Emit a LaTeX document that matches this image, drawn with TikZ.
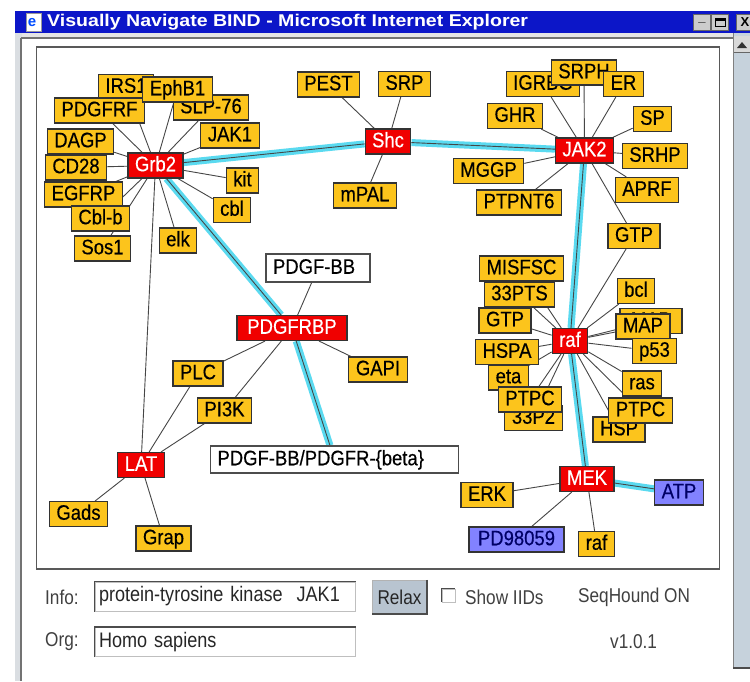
\documentclass[tikz,border=0pt]{standalone}
\usepackage{fontspec}
\setmainfont{Liberation Sans}
\newfontfamily\nodefont[FakeStretch=0.88,FakeBold=0.4]{Liberation Sans}
\newfontfamily\uifont[FakeStretch=0.86]{Liberation Sans}
\newfontfamily\titlefont[FakeStretch=1.15]{Liberation Sans}
\definecolor{nyel}{RGB}{252,196,28}
\definecolor{nred}{RGB}{240,0,0}
\definecolor{nlav}{RGB}{130,130,255}
\definecolor{glowc}{RGB}{90,218,240}
\definecolor{edgec}{RGB}{70,70,70}
\definecolor{titleblue}{RGB}{12,22,200}
\definecolor{wingrey}{RGB}{180,188,198}
\definecolor{scrollc}{RGB}{198,210,220}
\definecolor{btnc}{RGB}{184,196,208}
\pgfdeclarelayer{bg}\pgfdeclarelayer{edges}\pgfsetlayers{bg,edges,main}
\begin{document}
\begin{tikzpicture}[x=1pt,y=-1pt,
 nbox/.style={draw=black!80, line width=1.1pt, fill=nyel, inner xsep=7pt, inner ysep=0pt,
   minimum height=25pt, text height=15pt, text depth=3.5pt, font=\nodefont\fontsize{21}{22}\selectfont},
 hub/.style={nbox, fill=nred, text=white},
 lbox/.style={nbox, fill=nlav, text=black!60!blue},
 wbox/.style={nbox, fill=white, draw=black!70, align=left},
 ln/.style={draw=edgec, line width=0.9pt},
 glow/.style={draw=glowc, line width=7pt},
 ui/.style={font=\uifont\fontsize{20}{21}\selectfont, text=black!75, inner sep=0pt, anchor=west},
 field/.style={draw=black!25, fill=white, line width=1pt, minimum width=260pt, minimum height=29pt,
   text width=252pt, align=left, inner xsep=4pt, font=\uifont\fontsize{21}{22}\selectfont, text=black!85},
 bevel/.style={draw=black!70, line width=1.6pt},
 winbtn/.style={draw=black!60, fill=black!20, line width=0.8pt, minimum width=17pt, minimum height=16pt, inner sep=0pt, font=\bfseries\fontsize{13}{13}\selectfont},
]
\useasboundingbox (0,0) rectangle (750,681);
\begin{pgfonlayer}{bg}
\fill[white] (0,0) rectangle (750,681);
% window frame
\fill[wingrey!50] (15,33) rectangle (22,681);
\draw[black!55, line width=1.5pt] (21,38) -- (21,681);
\fill[black!10] (22,33) rectangle (733,38);
\draw[black!55, line width=1.5pt] (21,38) -- (733,38);
% scrollbar
\fill[scrollc] (733,33) rectangle (750,668);
\draw[black!50, line width=1pt] (733,33) -- (733,668);
\draw[black!70, line width=1.5pt] (733,668) -- (750,668);
\fill[black!15] (734,36) rectangle (750,52);
\draw[black!60] (734,52) -- (750,52);
\fill[black!80] (737,48) -- (742,42) -- (747,48) -- cycle;
% title bar
\fill[titleblue] (15,11) rectangle (750,33);
\end{pgfonlayer}
% title bar content
\node[draw=black!40, fill=white, minimum width=15pt, minimum height=18pt, inner sep=0pt] (icon) at (34,22.5) {};
\node[text=blue!70!cyan, font=\bfseries\fontsize{15}{15}\selectfont, inner sep=0pt] (iconE) at (32,23) {e};
\node[anchor=west, text=white, font=\titlefont\bfseries\fontsize{17}{18}\selectfont, inner sep=0pt] (title) at (47,22) {Visually Navigate BIND - Microsoft Internet Explorer};
\node[winbtn] (bmin) at (702,22.5) {\_};
\node[winbtn] (bmax) at (720,22.5) {};
\draw[black, line width=1pt] ([shift={(-5,4)}]bmax.center) rectangle ([shift={(5,-4)}]bmax.center);
\draw[black, line width=2pt] ([shift={(-5,-3)}]bmax.center) -- ([shift={(5,-3)}]bmax.center);
\node[winbtn, anchor=west] (bx) at (736,22.5) {X};
% canvas frame
\node[draw=black!65, line width=1.8pt, minimum width=683pt, minimum height=522pt, inner sep=0pt] (canvas) at (378,308) {};

% ---------- Grb2 cluster ----------
\node[nbox] (IRS) at (126,87) {IRS1};
\node[nbox] (PDGFRF) at (99.5,110.5) {PDGFRF};
\node[nbox] (SLP) at (211,107.5) {SLP-76};
\node[nbox] (EphB) at (177.5,89.5) {EphB1};
\node[nbox] (JAKa) at (230,135.5) {JAK1};
\node[nbox] (DAGP) at (80.5,141.5) {DAGP};
\node[nbox] (CD) at (76,167.5) {CD28};
\node[nbox] (EGFRP) at (83.5,194.5) {EGFRP};
\node[nbox] (Cblb) at (100.5,218.5) {Cbl-b};
\node[nbox] (Sos) at (102.5,248.5) {Sos1};
\node[nbox] (kit) at (242.5,180.5) {kit};
\node[nbox] (cbl) at (232,210) {cbl};
\node[nbox] (elk) at (178,240.5) {elk};
\node[hub] (Grb) at (155.5,165.5) {Grb2};
% ---------- Shc cluster ----------
\node[nbox] (PEST) at (328.5,84.5) {PEST};
\node[nbox] (SRP) at (404.5,84) {SRP};
\node[nbox] (mPAL) at (365,195.5) {mPAL};
\node[hub] (Shc) at (388,141.5) {Shc};
% ---------- JAK2 cluster ----------
\node[nbox] (IGR) at (543,84) {IGRBG};
\node[nbox] (SRPH) at (584,72.5) {SRPH};
\node[nbox] (ER) at (623.5,84) {ER};
\node[nbox] (GHR) at (515,116) {GHR};
\node[nbox] (SP) at (652.5,119) {SP};
\node[nbox] (SRHP) at (655,156) {SRHP};
\node[nbox] (MGGP) at (488.5,171) {MGGP};
\node[nbox] (APRF) at (647,190) {APRF};
\node[nbox] (PTPNT) at (519,202.5) {PTPNT6};
\node[nbox] (GTPa) at (634,236) {GTP};
\node[hub] (JAKb) at (584.5,150.5) {JAK2};
% ---------- raf cluster ----------
\node[nbox] (MISFSC) at (521.5,268.5) {MISFSC};
\node[nbox] (PTSa) at (519.5,294.5) {33PTS};
\node[nbox] (GTPb) at (505,320.5) {GTP};
\node[nbox] (HSPA) at (507,352) {HSPA};
\node[nbox] (eta) at (508.5,377.5) {eta};
\node[nbox] (PTSb) at (533.5,418) {33P2};
\node[nbox] (PTPCa) at (530,399.5) {PTPC};
\node[nbox] (bcl) at (636,291) {bcl};
\node[nbox, minimum width=62pt] (MAPK) at (651,321) {MAP};
\node[nbox] (MAP) at (643,326.5) {MAP};
\node[nbox] (p53) at (654.5,351) {p53};
\node[nbox] (ras) at (642,383.5) {ras};
\node[nbox] (HSP) at (619,429.5) {HSP};
\node[nbox] (PTPCb) at (640.5,410.5) {PTPC};
\node[hub] (raf) at (570,341) {raf};
% ---------- MEK cluster ----------
\node[nbox] (ERK) at (487,495) {ERK};
\node[lbox] (ATP) at (679,492.5) {ATP};
\node[lbox, minimum width=95pt] (PD) at (516.5,539.5) {PD98059};
\node[nbox] (rafb) at (596.5,544) {raf};
\node[hub] (MEK) at (587,479) {MEK};
% ---------- PDGFRBP cluster ----------
\node[wbox, text width=90pt, minimum height=28pt] (PDGFBB) at (318,268) {PDGF-BB};
\node[hub, minimum width=110pt] (PDGFRBP) at (292,328) {PDGFRBP};
\node[wbox, text width=234pt, minimum height=27pt] (cplx) at (334.5,459.5) {PDGF-BB/PDGFR-\{beta\}};
\node[nbox] (PLC) at (198,373.5) {PLC};
\node[nbox] (PIK) at (224.5,410.5) {PI3K};
\node[nbox] (GAPI) at (378,369.5) {GAPI};
\node[hub] (LAT) at (141,465) {LAT};
\node[nbox] (Gads) at (78.5,514) {Gads};
\node[nbox] (Grap) at (163.5,538.5) {Grap};

% ---------- connectors ----------
\begin{pgfonlayer}{edges}
\foreach \a/\b in {Grb/Shc, Shc/JAKb, Grb/PDGFRBP, PDGFRBP/cplx, JAKb/raf, raf/MEK, MEK/ATP}
  {\draw[glow] (\a) -- (\b);}
\foreach \a/\b in {Grb/Shc, Shc/JAKb, Grb/PDGFRBP, PDGFRBP/cplx, JAKb/raf, raf/MEK, MEK/ATP}
  {\draw[ln] (\a) -- (\b);}
\foreach \b in {IRS, EphB, PDGFRF, SLP, JAKa, DAGP, CD, EGFRP, Cblb, Sos, kit, cbl, elk, LAT}
  {\draw[ln] (Grb) -- (\b);}
\foreach \b in {PEST, SRP, mPAL}
  {\draw[ln] (Shc) -- (\b);}
\foreach \b in {IGR, SRPH, ER, GHR, SP, SRHP, MGGP, APRF, PTPNT, GTPa}
  {\draw[ln] (JAKb) -- (\b);}
\foreach \b in {GTPa, MISFSC, PTSa, GTPb, HSPA, eta, PTPCa, PTSb, bcl, MAPK, MAP, p53, ras, PTPCb, HSP}
  {\draw[ln] (raf) -- (\b);}
\foreach \b in {ERK, PD, rafb}
  {\draw[ln] (MEK) -- (\b);}
\foreach \b in {PDGFBB, PLC, PIK, GAPI}
  {\draw[ln] (PDGFRBP) -- (\b);}
\foreach \b in {PLC, PIK, Gads, Grap}
  {\draw[ln] (LAT) -- (\b);}
\end{pgfonlayer}

% ---------- controls ----------
\node[ui] (infol) at (45,597) {Info:};
\node[field] (infof) at (225,596.5) {protein-tyrosine kinase\ \ JAK1};
\draw[bevel] (infof.south west) -- (infof.north west) -- (infof.north east);
\node[draw=black!30, fill=btnc, minimum width=55pt, minimum height=34pt, inner sep=0pt,
  font=\uifont\fontsize{20}{21}\selectfont, text=black!85] (relax) at (399.5,597) {Relax};
\draw[bevel] (relax.north east) -- (relax.south east) -- (relax.south west);
\node[draw=black!25, fill=white, minimum size=13pt, inner sep=0pt] (chk) at (448.5,595.5) {};
\draw[bevel, line width=1.2pt] (chk.south west) -- (chk.north west) -- (chk.north east);
\node[ui] (show) at (465,597) {Show IIDs};
\node[ui] (seq) at (578,597) {SeqHound ON};
\node[ui] (orgl) at (45,642) {Org:};
\node[field] (orgf) at (225,642) {Homo sapiens};
\draw[bevel] (orgf.south west) -- (orgf.north west) -- (orgf.north east);
\node[ui] (ver) at (610,642) {v1.0.1};
\end{tikzpicture}
\end{document}
